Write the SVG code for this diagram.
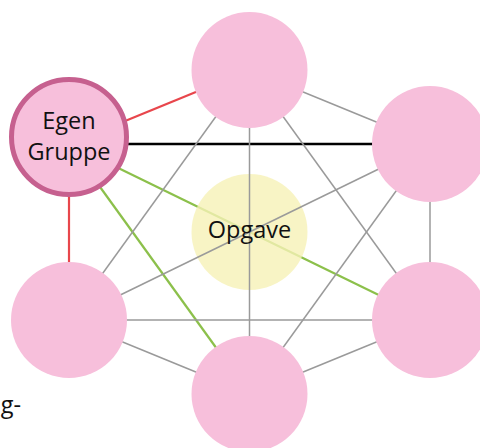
<svg xmlns="http://www.w3.org/2000/svg" width="480" height="448" viewBox="0 0 480 448">
<style>
.gray{stroke:#9a9a9a;stroke-width:1.5;fill:none}
.red{stroke:#e8464c;stroke-width:2.2;fill:none}
.green{stroke:#8cc04b;stroke-width:2.2;fill:none}
.black{stroke:#000;stroke-width:2.5;fill:none}
.pink{fill:#f7bfdb}
.egen{fill:#f7bfdb;stroke:#c6608f;stroke-width:5}
.center{fill:#f6f1b6;fill-opacity:0.8}
text{font-family:"Open Sans","Noto Sans",sans-serif;font-size:23.5px;fill:#111;text-anchor:middle}
</style>
<rect width="480" height="448" fill="#fff"/>
<g id="connectors">
<line class="green" x1="69" y1="144" x2="430" y2="320"/>
<line class="green" x1="69" y1="144" x2="249.5" y2="394"/>
<line class="red" x1="69" y1="144" x2="249.5" y2="70"/>
<line class="red" x1="69" y1="144" x2="69" y2="320"/>
<line class="black" x1="69" y1="144" x2="430" y2="144"/>
</g>
<g id="node-opgave">
<circle class="center" cx="249.5" cy="232" r="58"/>
</g>
<g id="connectors-gray">
<line class="gray" x1="249.5" y1="70" x2="430" y2="144"/>
<line class="gray" x1="249.5" y1="70" x2="69" y2="320"/>
<line class="gray" x1="249.5" y1="70" x2="249.5" y2="394"/>
<line class="gray" x1="249.5" y1="70" x2="430" y2="320"/>
<line class="gray" x1="430" y1="144" x2="69" y2="320"/>
<line class="gray" x1="430" y1="144" x2="249.5" y2="394"/>
<line class="gray" x1="430" y1="144" x2="430" y2="320"/>
<line class="gray" x1="69" y1="320" x2="430" y2="320"/>
<line class="gray" x1="69" y1="320" x2="249.5" y2="394"/>
<line class="gray" x1="430" y1="320" x2="249.5" y2="394"/>
</g>
<text id="label-opgave" x="249.5" y="238">Opgave</text>
<g id="node-top"><circle class="pink" cx="249.5" cy="70" r="58"/></g>
<g id="node-top-right"><circle class="pink" cx="430" cy="144" r="58"/></g>
<g id="node-bottom-right"><circle class="pink" cx="430" cy="320" r="58"/></g>
<g id="node-bottom"><circle class="pink" cx="249.5" cy="394" r="58"/></g>
<g id="node-bottom-left"><circle class="pink" cx="69" cy="320" r="58"/></g>
<g id="node-egen">
<circle class="egen" cx="69" cy="137" r="57.5"/>
<text x="69" y="129">Egen</text>
<text x="69" y="160">Gruppe</text>
</g>
<text x="21" y="413" style="text-anchor:end">g-</text>
</svg>
